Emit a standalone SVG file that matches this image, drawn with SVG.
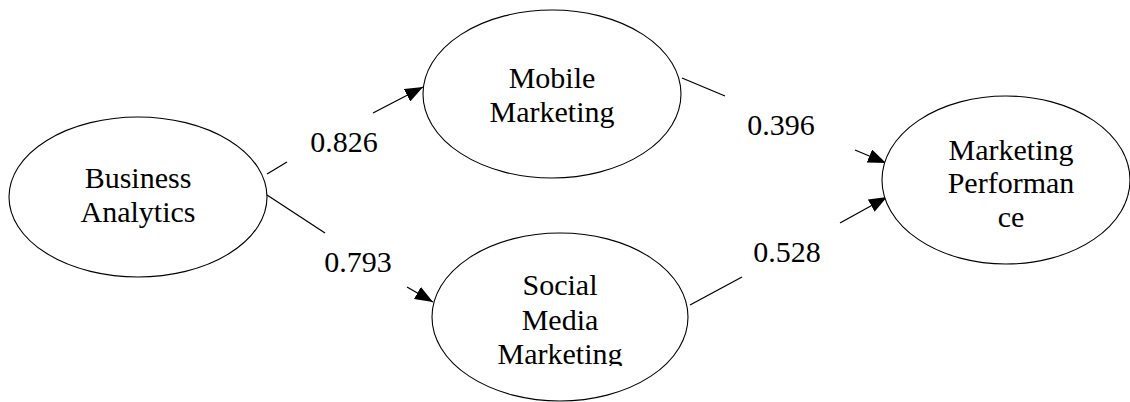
<svg xmlns="http://www.w3.org/2000/svg" width="1130" height="402" viewBox="0 0 1130 402">
<style>
.node{fill:#fff;stroke:#000;stroke-width:1.1}
.t{font-family:"Liberation Serif","DejaVu Serif",serif;font-size:30px;fill:#000;text-anchor:middle}
.c{stroke:#000;stroke-width:1.3;fill:none}
</style>
<defs>
<marker id="arr" markerUnits="userSpaceOnUse" markerWidth="18" markerHeight="14" refX="18" refY="7" orient="auto">
<path d="M0,0 L18,7 L0,14 z" fill="#000"/>
</marker>
<clipPath id="clipS"><rect x="0" y="0" width="1130" height="366"/></clipPath>
</defs>
<rect width="1130" height="402" fill="#fff"/>
<g id="connectors">
<line class="c" x1="267" y1="174" x2="287" y2="162"/>
<line class="c" x1="373" y1="113" x2="423" y2="87" marker-end="url(#arr)"/>
<line class="c" x1="267" y1="195" x2="325" y2="233"/>
<line class="c" x1="407" y1="287" x2="433" y2="302" marker-end="url(#arr)"/>
<line class="c" x1="682" y1="78" x2="725" y2="96"/>
<line class="c" x1="855" y1="150" x2="886" y2="163" marker-end="url(#arr)"/>
<line class="c" x1="690" y1="305" x2="742" y2="277"/>
<line class="c" x1="840" y1="223" x2="887" y2="197" marker-end="url(#arr)"/>
<text class="t" x="344" y="152">0.826</text>
<text class="t" x="358" y="272">0.793</text>
<text class="t" x="781" y="135">0.396</text>
<text class="t" x="787" y="262">0.528</text>
</g>
<g id="business-analytics">
<ellipse class="node" cx="138" cy="197" rx="129" ry="80"/>
<text class="t" x="138" y="188">Business</text>
<text class="t" x="138" y="222">Analytics</text>
</g>
<g id="mobile-marketing">
<ellipse class="node" cx="552" cy="94" rx="129" ry="84"/>
<text class="t" x="552" y="88">Mobile</text>
<text class="t" x="552" y="122">Marketing</text>
</g>
<g id="social-media-marketing">
<ellipse class="node" cx="560" cy="317" rx="128" ry="84"/>
<g clip-path="url(#clipS)">
<text class="t" x="560" y="295">Social</text>
<text class="t" x="560" y="330">Media</text>
<text class="t" x="560" y="364">Marketing</text>
</g>
</g>
<g id="marketing-performance">
<ellipse class="node" cx="1006" cy="180" rx="124" ry="84"/>
<text class="t" x="1011" y="160">Marketing</text>
<text class="t" x="1011" y="193">Performan</text>
<text class="t" x="1011" y="227">ce</text>
</g>
</svg>
